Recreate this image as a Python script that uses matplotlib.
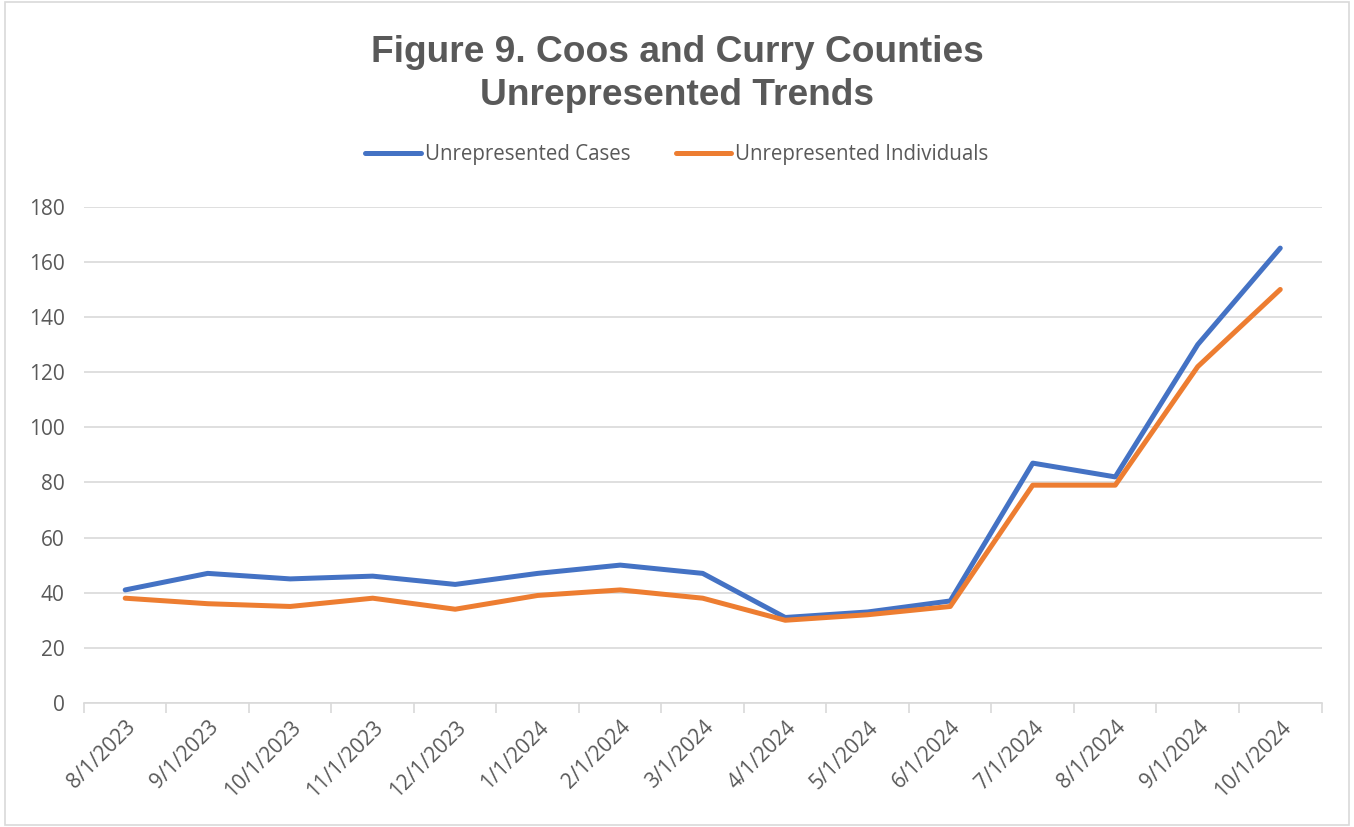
import matplotlib
matplotlib.use("Agg")
import matplotlib.pyplot as plt
from matplotlib.patches import Rectangle

dates = ["8/1/2023", "9/1/2023", "10/1/2023", "11/1/2023", "12/1/2023", "1/1/2024",
         "2/1/2024", "3/1/2024", "4/1/2024", "5/1/2024", "6/1/2024", "7/1/2024",
         "8/1/2024", "9/1/2024", "10/1/2024"]
cases = [41, 47, 45, 46, 43, 47, 50, 47, 31, 33, 37, 87, 82, 130, 165]
individuals = [38, 36, 35, 38, 34, 39, 41, 38, 30, 32, 35, 79, 79, 122, 150]

title = "Figure 9. Coos and Curry Counties\nUnrepresented Trends"
text_color = "#595959"
grid_color = "#D9D9D9"

fig = plt.figure(figsize=(13.54, 8.27), dpi=100)
fig.patches.append(Rectangle((0.004, 0.003), 0.992, 0.994, transform=fig.transFigure,
                             fill=False, edgecolor=grid_color, linewidth=1.2))
ax = fig.add_axes([0.062, 0.15, 0.914, 0.60])

x = list(range(len(dates)))
ax.plot(x, cases, color="#4472C4", linewidth=3.6, solid_capstyle="round",
        solid_joinstyle="round", label="Unrepresented Cases")
ax.plot(x, individuals, color="#ED7D31", linewidth=3.6, solid_capstyle="round",
        solid_joinstyle="round", label="Unrepresented Individuals")

ax.set_xlim(-0.5, len(dates) - 0.5)
ax.set_ylim(0, 180)
ax.set_yticks(range(0, 181, 20))
ax.set_xticks(x)
ax.set_xticklabels(dates, rotation=45, ha="right", rotation_mode="anchor",
                   fontsize=15, color=text_color, family="Open Sans")
ax.tick_params(axis="x", length=0, pad=10)
ax.tick_params(axis="y", length=0, pad=14, labelsize=15, labelcolor=text_color)
for lab in ax.get_yticklabels():
    lab.set_family("Open Sans")

# boundary tick marks
ax.set_xticks([i - 0.5 for i in range(len(dates) + 1)], minor=True)
ax.tick_params(axis="x", which="minor", length=7, color=grid_color, width=1.2)

ax.grid(axis="y", color=grid_color, linewidth=1.2)
ax.set_axisbelow(True)
for s in ["top", "right", "left"]:
    ax.spines[s].set_visible(False)
ax.spines["bottom"].set_color(grid_color)
ax.spines["bottom"].set_linewidth(1.2)

fig.text(0.5, 0.958, title, ha="center", va="top", fontsize=26.7, fontweight="bold",
         color=text_color, family="Liberation Sans", linespacing=1.32)

leg = fig.legend(loc="center", bbox_to_anchor=(0.5, 0.813), ncol=2, frameon=False,
                 prop={"family": "Open Sans", "size": 14.8}, handlelength=2.7,
                 handletextpad=0.2, columnspacing=2.2)
for t in leg.get_texts():
    t.set_color(text_color)
for h in leg.get_lines():
    h.set_solid_capstyle("round")

fig.savefig("out.png", dpi=100, facecolor="white")
